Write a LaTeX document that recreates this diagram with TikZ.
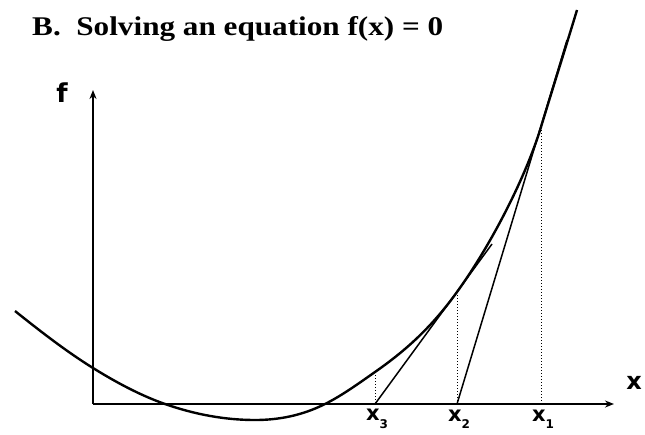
\documentclass[tikz,border=0pt]{standalone}
\usepackage{fontspec}
\setmainfont{Liberation Serif}
\newfontfamily\lblfont{DejaVu Sans}
\usetikzlibrary{arrows.meta}
\tikzset{
  axisline/.style={line width=1.8pt,-{Stealth[length=9pt,width=7pt]}},
  curveline/.style={line width=2.4pt},
  tanline/.style={line width=1.5pt},
  dropline/.style={line width=1pt,dotted},
  lbl/.style={inner sep=0pt,font=\lblfont\bfseries\fontsize{21}{21}\selectfont},
}
\newcommand{\xsub}[1]{x\raisebox{-0.35em}{\fontsize{12}{12}\selectfont #1}}
\begin{document}
\begin{tikzpicture}[x=1pt,y=-1pt]
\useasboundingbox (0,0) rectangle (645,434);
% title
\node[anchor=base west,inner sep=0pt,font=\bfseries\fontsize{27}{27}\selectfont] (title) at (32,35) {\scalebox{1.155}[1]{B.\ \ Solving an equation f(x) = 0}};
% axes
\coordinate (o) at (93,404);
\coordinate (ytop) at (93,90);
\coordinate (xend) at (614,404);
\draw[axisline] (o) -- (ytop);
\draw[axisline] (o) -- (xend);
\node[lbl,font=\lblfont\bfseries\fontsize{26}{26}\selectfont] (flab) at (62,93) {f};
\node[lbl,font=\lblfont\bfseries\fontsize{24}{24}\selectfont] (xlab) at (634,383) {x};
% curve points
\coordinate (p0) at (15,311);
\coordinate (p1) at (93,368);
\coordinate (p2) at (165,404);
\coordinate (p3) at (255,420);
\coordinate (p4) at (325,404);
\coordinate (p5) at (375,372);
\coordinate (p6) at (457,292);
\coordinate (p7) at (541,127);
\coordinate (p8) at (577,10);
\draw[curveline] (p0)
  .. controls (41,331.8) and (67,351.9) .. (p1)
  .. controls (117,382.9) and (141,395.6) .. (p2)
  .. controls (195,414.5) and (225,420) .. (p3)
  .. controls (278.3,420) and (301.7,415.7) .. (p4)
  .. controls (341.7,395.7) and (358.3,383.7) .. (p5)
  .. controls (402.3,352.9) and (429.7,330) .. (p6)
  .. controls (492.3,243) and (526.1,175.9) .. (p7)
  .. controls (553,87.4) and (565,49.6) .. (p8);
% roots on axis
\coordinate (r1) at (541,404);
\coordinate (r2) at (457,404);
\coordinate (r3) at (375,404);
% tangents
\coordinate (t1end) at (567,40);
\coordinate (t2end) at (492,244);
\draw[tanline] (r2) -- (t1end);
\draw[tanline] (r3) -- (t2end);
% drop lines
\draw[dropline] (p7) -- (r1);
\draw[dropline] (p6) -- (r2);
\draw[dropline] (p5) -- (r3);
% labels
\node[lbl] (lx1) at (543,419) {\xsub{1}};
\node[lbl] (lx2) at (459,419) {\xsub{2}};
\node[lbl] (lx3) at (377,419) {\xsub{3}};
\end{tikzpicture}
\end{document}
